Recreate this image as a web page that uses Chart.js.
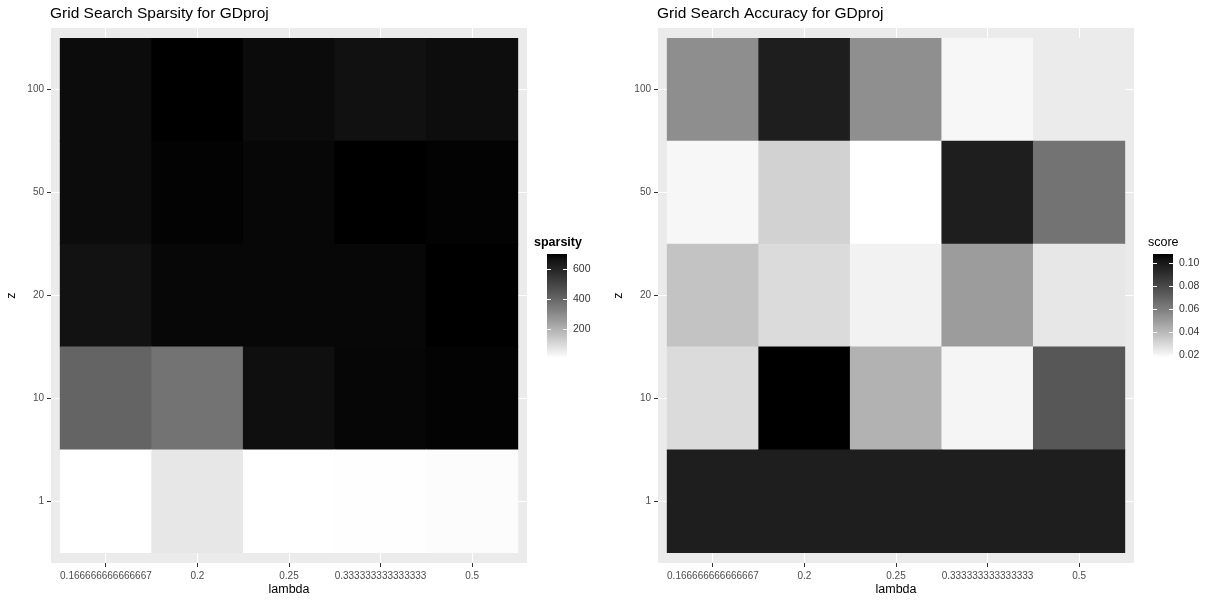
<!DOCTYPE html>
<html>
<head>
<meta charset="utf-8">
<script src="https://cdn.jsdelivr.net/npm/chart.js@4.4.1/dist/chart.umd.min.js"></script>
<style>
  html, body { margin: 0; padding: 0; background: #fff; overflow: hidden; }
  #wrap { position: relative; width: 1209px; height: 600px; }
  canvas { position: absolute; top: 0; }
</style>
</head>
<body>
<div id="wrap">
  <canvas id="graficaSparsity" width="604" height="600" style="left:0px"></canvas>
  <canvas id="graficaScore" width="602" height="600" style="left:607px"></canvas>
</div>
<script>
// categorias
const lambdaLabels = ['0.166666666666667', '0.2', '0.25', '0.333333333333333', '0.5'];
const zLabels = ['1', '10', '20', '50', '100'];

// sparsity por fila de z (columnas = lambda)
const sparsityZ1 = [7, 65, 7, 9, 14];
const sparsityZ10 = [406, 364, 670, 689, 694];
const sparsityZ20 = [662, 687, 687, 687, 700];
const sparsityZ50 = [677, 694, 687, 700, 694];
const sparsityZ100 = [677, 700, 679, 666, 674];

// score (accuracy) por fila de z
const scoreZ1 = [0.0976, 0.0976, 0.0976, 0.0976, 0.0976];
const scoreZ10 = [0.0288, 0.1078, 0.0422, 0.0206, 0.0744];
const scoreZ20 = [0.0366, 0.0288, 0.0215, 0.0496, 0.0249];
const scoreZ50 = [0.0199, 0.0317, 0.0174, 0.0976, 0.0640];
const scoreZ100 = [0.0544, 0.0976, 0.0541, 0.0199, 0.0237];

// etiquetas de la leyenda
const sparsityTicks = [200, 400, 600];
const scoreTicks = [0.02, 0.04, 0.06, 0.08, 0.10];

const FONT = '"Liberation Sans", Arial, Helvetica, sans-serif';

// blanco -> negro interpolado en Lab, como ggplot
function greyFor(t) {
    const L = 100 * (1 - t);
    const Y = L > 8 ? Math.pow((L + 16) / 116, 3) : L / 903.3;
    const c = Y <= 0.0031308 ? 12.92 * Y : 1.055 * Math.pow(Y, 1 / 2.4) - 0.055;
    const g = Math.max(0, Math.min(255, Math.round(c * 255)));
    return 'rgb(' + g + ',' + g + ',' + g + ')';
}

const panelPlugin = {
    id: 'panel',
    beforeDraw(chart) {
        const a = chart.chartArea;
        const ctx = chart.ctx;
        ctx.save();
        ctx.fillStyle = '#EBEBEB';
        ctx.fillRect(a.left, a.top, a.right - a.left, a.bottom - a.top);
        ctx.restore();
    },
    afterDraw(chart, args, o) {
        const a = chart.chartArea;
        const ctx = chart.ctx;
        ctx.save();

        // titulo
        ctx.fillStyle = '#000';
        ctx.font = '15.5px ' + FONT;
        ctx.textAlign = 'left';
        ctx.textBaseline = 'alphabetic';
        ctx.fillText(o.title, a.left - 1, 18);

        // titulos de ejes
        ctx.font = '12.5px ' + FONT;
        ctx.textAlign = 'center';
        ctx.textBaseline = 'middle';
        ctx.fillText('lambda', (a.left + a.right) / 2, 590);
        ctx.save();
        ctx.translate(12, (a.top + a.bottom) / 2);
        ctx.rotate(-Math.PI / 2);
        ctx.fillText('z', 0, 0);
        ctx.restore();

        // leyenda (barra de color)
        const vals = o.rows.flat();
        const min = Math.min(...vals), max = Math.max(...vals);
        const top = 254, bottom = 358, x0 = o.barX, w = 20;
        const grad = ctx.createLinearGradient(0, top, 0, bottom);
        for (let i = 0; i <= 30; i++) grad.addColorStop(i / 30, greyFor(1 - i / 30));
        ctx.fillStyle = grad;
        ctx.fillRect(x0, top, w, bottom - top);

        ctx.font = (o.legendBold ? 'bold ' : '') + '12.5px ' + FONT;
        ctx.fillStyle = '#000';
        ctx.textAlign = 'left';
        ctx.textBaseline = 'alphabetic';
        ctx.fillText(o.legendTitle, o.legendTitleX, 246);

        ctx.font = '10.5px ' + FONT;
        ctx.fillStyle = '#333';
        ctx.textBaseline = 'middle';
        ctx.strokeStyle = '#fff';
        ctx.lineWidth = 1;
        o.ticks.forEach(v => {
            const y = Math.round(top + (max - v) / (max - min) * (bottom - top)) + 0.5;
            ctx.beginPath();
            ctx.moveTo(x0, y); ctx.lineTo(x0 + 4, y);
            ctx.moveTo(x0 + w - 4, y); ctx.lineTo(x0 + w, y);
            ctx.stroke();
            ctx.fillText(o.format(v), x0 + w + 6, y);
        });
        ctx.restore();
    }
};

function crearHeatmap(id, rows, extra) {
    const vals = rows.flat();
    const min = Math.min(...vals), max = Math.max(...vals);

    const datasets = rows.map((row, j) => ({
        data: row.map((v, i) => ({ x: i, y: [j - 0.5, j + 0.5] })),
        backgroundColor: row.map(v => greyFor((v - min) / (max - min))),
        borderWidth: 0,
        grouped: false,
        barPercentage: 1,
        categoryPercentage: 1
    }));

    const ejeComun = {
        type: 'linear',
        min: -0.6,
        max: 4.6,
        offset: false,
        border: { display: false },
        grid: { offset: false, color: '#FFFFFF', lineWidth: 1, tickColor: '#333333', tickLength: 4 },
        afterBuildTicks: s => { s.ticks = [0, 1, 2, 3, 4].map(v => ({ value: v })); }
    };

    return new Chart(document.getElementById(id).getContext('2d'), {
        type: 'bar',
        data: { datasets },
        plugins: [panelPlugin],
        options: {
            responsive: false,
            animation: false,
            layout: { padding: { top: 28, left: 0, right: extra.rightPad, bottom: 0 } },
            plugins: {
                legend: { display: false },
                tooltip: { enabled: false },
                panel: Object.assign({ rows }, extra)
            },
            scales: {
                x: Object.assign({}, ejeComun, {
                    ticks: {
                        color: '#4D4D4D', font: { family: FONT, size: 10 }, padding: 3,
                        maxRotation: 0, autoSkip: false,
                        callback: v => lambdaLabels[Math.round(v)]
                    },
                    afterFit: s => { s.height = 37; }
                }),
                y: Object.assign({}, ejeComun, {
                    ticks: {
                        color: '#4D4D4D', font: { family: FONT, size: 10 }, padding: 3,
                        autoSkip: false,
                        callback: v => zLabels[Math.round(v)]
                    },
                    afterFit: s => { s.width = 51; }
                })
            }
        }
    });
}

crearHeatmap('graficaSparsity',
    [sparsityZ1, sparsityZ10, sparsityZ20, sparsityZ50, sparsityZ100],
    {
        title: 'Grid Search Sparsity for GDproj',
        legendTitle: 'sparsity', legendBold: true, legendTitleX: 534,
        barX: 547, ticks: sparsityTicks, rightPad: 77,
        format: v => String(v)
    });

crearHeatmap('graficaScore',
    [scoreZ1, scoreZ10, scoreZ20, scoreZ50, scoreZ100],
    {
        title: 'Grid Search Accuracy for GDproj',
        legendTitle: 'score', legendBold: false, legendTitleX: 541,
        barX: 546, ticks: scoreTicks, rightPad: 75,
        format: v => v.toFixed(2)
    });
</script>
</body>
</html>
